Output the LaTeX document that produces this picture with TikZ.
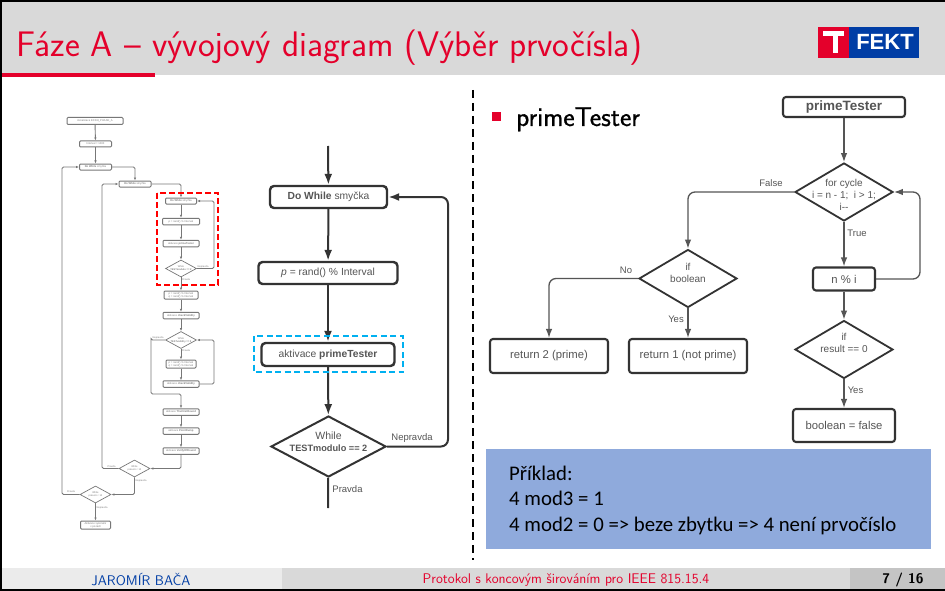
\documentclass[tikz,border=0pt]{standalone}
\usepackage{fontspec}
\usepackage{xcolor}
\usetikzlibrary{positioning,arrows.meta,shapes.geometric}
\newfontfamily\flowfont{Liberation Sans}
\newfontfamily\notefont{Carlito}
\newfontfamily\headfont[FakeBold=.7]{Latin Modern Sans}
\definecolor{fektred}{HTML}{E4002B}
\definecolor{fektblue}{HTML}{003DA5}
\definecolor{linedark}{HTML}{333333}
\definecolor{textgray}{HTML}{555555}
\definecolor{noteblue}{HTML}{8FAADC}
\definecolor{markblue}{HTML}{00B0F0}
\definecolor{minigray}{HTML}{777777}
\tikzset{
box/.style={draw=linedark, line width=2.1pt, rounded corners=3pt, inner sep=0pt, text=textgray, font=\flowfont\fontsize{11.3}{13}\selectfont, align=center},
mainbox/.style={box, line width=2.4pt, rounded corners=4pt, font=\flowfont\fontsize{10.3}{13}\selectfont},
dia/.style={diamond, draw=linedark, line width=1.8pt, inner sep=0pt, aspect=1.7},
dialab/.style={text=textgray, font=\flowfont\fontsize{10}{12.3}\selectfont, align=center, inner sep=0pt},
lab/.style={text=textgray, font=\flowfont\fontsize{9.5}{11}\selectfont, inner sep=0pt},
link/.style={draw=linedark, line width=2pt, rounded corners=7pt, -{Latex[length=11pt,width=8pt]}},
plainlink/.style={draw=linedark, line width=2pt},
testlink/.style={draw=textgray, line width=1.3pt, rounded corners=7pt, -{Latex[length=9pt,width=6.5pt]}},
minibox/.style={draw=minigray, line width=1pt, rounded corners=1pt, inner sep=0pt, text=gray, font=\flowfont\fontsize{2.7}{3.2}\selectfont, align=center},
minidia/.style={diamond, draw=minigray, line width=.7pt, inner sep=0pt, aspect=1.8, minimum width=31pt, minimum height=17pt},
minilab/.style={text=gray, font=\flowfont\fontsize{2.5}{3.1}\selectfont, align=center, inner sep=0pt},
minilink/.style={draw=minigray, line width=.9pt, rounded corners=1.5pt, -{Latex[length=3pt,width=2.4pt]}},
markbox/.style={dash pattern=on 6pt off 3.5pt, line width=1.5pt}
}
\begin{document}
\begin{tikzpicture}[x=1pt,y=-1pt]
\useasboundingbox (0,0) rectangle (945,591);
\fill[white] (0,0) rectangle (945,591);
% header
\fill[black!15] (0,0) rectangle (945,75);
\fill[fektred] (2,73) rectangle (155,77);
\node[text=fektred, font=\sffamily\fontsize{35.5}{40}\selectfont, inner sep=0pt, anchor=base west] (title) at (16,57) {Fáze A -- vývojový diagram (Výběr prvočísla)};
% logo
\fill[fektred] (818,27) rectangle (849,58);
\fill[fektblue] (849,27) rectangle (919,58);
\fill[white] (823,31) rectangle (844,36);
\fill[white] (833,36) rectangle (838,53);
\node[text=white, font=\flowfont\bfseries\fontsize{22}{24}\selectfont, inner sep=0pt] (fekt) at (885,42) {FEKT};
% footer
\fill[black!8] (0,568) rectangle (282,591);
\fill[black!15] (282,568) rectangle (850,591);
\fill[black!23] (850,568) rectangle (945,591);
\node[text=fektblue, font=\sffamily\fontsize{14}{16}\selectfont, inner sep=0pt] (author) at (141,580) {JAROMÍR BAČA};
\node[text=fektred, font=\sffamily\fontsize{14}{16}\selectfont, inner sep=0pt] (talk) at (566,580) {Protokol s koncovým širováním pro IEEE 815.15.4};
\node[font=\sffamily\bfseries\fontsize{14}{16}\selectfont, inner sep=0pt] (page) at (903,580) {7 / 16};
% frame
\draw[line width=4pt] (0,0) -- (945,0);
\draw[line width=3pt] (0,0) -- (0,591);
\draw[line width=4pt] (0,591) -- (945,591);
% divider
\draw[line width=2pt, dash pattern=on 8pt off 5pt] (473,90) -- (473,560);
% thumbnail chart
\node[minibox, minimum width=56pt, minimum height=7pt] (tInit) at (95,121) {inicializace ECDH\_PHASE\_A};
\node[minibox, minimum width=32pt, minimum height=6pt] (tInterval) at (95.5,144) {Interval = 1000};
\node[minibox, minimum width=32pt, minimum height=6pt] (tDoA) at (95.5,167) {\textbf{Do While} smyčka};
\node[minibox, minimum width=32pt, minimum height=6pt] (tDoB) at (135,184) {\textbf{Do While} smyčka};
\node[minibox, minimum width=31pt, minimum height=6pt] (tDoC) at (181,201) {\textbf{Do While} smyčka};
\node[minibox, minimum width=37pt, minimum height=6.5pt] (tRand) at (181,221.5) {\textit{p} = rand() \% Interval};
\node[minibox, minimum width=36pt, minimum height=6.5pt] (tTester) at (181,243.5) {aktivace \textbf{primeTester}};
\node[minidia] (tWhileA) at (181,268.5) {};
\node[minilab] (tWhileAlab) at (181,268.5) {While\\\textbf{TESTmodulo == 2}};
\node[minilab] (tNeA) at (203,266.5) {Nepravda};
\node[minilab] (tPrA) at (186,279.5) {Pravda};
\node[minibox, minimum width=34pt, minimum height=8pt] (tPair) at (181,295) {\textit{p} = rand() \% Interval\\\textit{q} = rand() \% Interval};
\node[minibox, minimum width=36pt, minimum height=6.5pt] (tCheckA) at (181,315.5) {aktivace \textbf{checkValidity}};
\node[minidia] (tWhileB) at (181,340) {};
\node[minilab] (tWhileBlab) at (181,340) {While\\\textbf{TESTvalidity == 2}};
\node[minilab] (tNeB) at (158,337.5) {Nepravda};
\node[minilab] (tPrB) at (186,351) {Pravda};
\node[minibox, minimum width=30pt, minimum height=8pt] (tPairB) at (181,364) {\textit{p} = rand() \% Interval\\\textit{q} = rand() \% Interval};
\node[minibox, minimum width=36pt, minimum height=6.5pt] (tCheckB) at (181,384) {aktivace \textbf{checkValidity}};
\coordinate (tJoin) at (181,394);
\node[minibox, minimum width=36pt, minimum height=6.5pt] (tFirst) at (181,412) {aktivace \textbf{TheFirstRound}};
\node[minibox, minimum width=36pt, minimum height=6.5pt] (tDump) at (181,431) {aktivace \textbf{PointDump}};
\node[minibox, minimum width=36pt, minimum height=6.5pt] (tVerify) at (181,451) {aktivace \textbf{VerifyOfRound}};
\node[minidia] (tWhileC) at (134.5,468.5) {};
\node[minilab] (tWhileClab) at (134.5,468.5) {While\\pokusů < 10};
\node[minilab] (tPrC) at (111.5,466.5) {Pravda};
\node[minilab] (tNeC) at (141,481) {Nepravda};
\node[minidia] (tWhileD) at (95.5,494.5) {};
\node[minilab] (tWhileDlab) at (95.5,494.5) {While\\pokusů < 10};
\node[minilab] (tPrD) at (71,492) {Pravda};
\node[minilab] (tNeD) at (102,508) {Nepravda};
\node[minibox, minimum width=30pt, minimum height=8pt] (tEnd) at (95.5,525) {Aktivace vykonání\\v pozadí};
\coordinate (tLeftA) at (62,300);
\coordinate (tLeftB) at (102,300);
\coordinate (tLeftC) at (151,340);
\coordinate (tRightA) at (214,268.5);
\coordinate (tRightB) at (214,340);
\draw[minilink] (tInit) -- (tInterval);
\draw[minilink] (tInterval) -- (tDoA);
\draw[minilink] (tDoA.east) -| (tDoB.north);
\draw[minilink] (tDoB.east) -| (tDoC.north);
\draw[minilink] (tDoC) -- (tRand);
\draw[minilink] (tRand) -- (tTester);
\draw[minilink] (tTester) -- (tWhileA);
\draw[minilink] (tWhileA) -- (tPair);
\draw[minilink] (tPair) -- (tCheckA);
\draw[minilink] (tCheckA) -- (tWhileB);
\draw[minilink] (tWhileB) -- (tPairB);
\draw[minilink] (tPairB) -- (tCheckB);
\draw[minilink] (tWhileA.east) -| (tRightA) |- (tDoC.east);
\draw[minilink] (tCheckB.east) -| (tRightB) -- (tWhileB.east);
\draw[minilink] (tWhileB.west) -| (tLeftC) |- (tJoin) -- (tFirst.north);
\draw[minilink] (tFirst) -- (tDump);
\draw[minilink] (tDump) -- (tVerify);
\draw[minilink] (tVerify.south) |- (tWhileC.east);
\draw[minilink] (tWhileC.west) -| (tLeftB) |- (tDoB.west);
\draw[minilink] (tWhileC.south) |- (tWhileD.east);
\draw[minilink] (tWhileD.west) -| (tLeftA) |- (tDoA.west);
\draw[minilink] (tWhileD) -- (tEnd);
\draw[draw=red, line width=1.6pt, dash pattern=on 6pt off 3pt] (157,193) rectangle (218,285);
% zoomed chart
\coordinate (mainTop) at (328,146);
\coordinate (mainEnd) at (328,508);
\coordinate (mainRight) at (448,321);
\node[mainbox, minimum width=117pt, minimum height=22pt] (doLoop) at (328.5,197) {\textbf{Do While} smyčka};
\node[mainbox, minimum width=139pt, minimum height=22pt] (randP) at (328,273) {\textit{p} = rand() \% Interval};
\node[mainbox, minimum width=133pt, minimum height=23pt] (callTester) at (328,354.5) {aktivace \textbf{primeTester}};
\node[dia, line width=2pt, minimum width=115pt, minimum height=61pt, label={[dialab, yshift=5pt]center:{\fontsize{10.5}{12}\selectfont While\\\fontsize{9.2}{12}\selectfont\textbf{TESTmodulo == 2}}}] (whileTest) at (328.5,446.5) {};
\node[lab] (noLab) at (412,438) {Nepravda};
\node[lab] (yesLab) at (347.5,489) {Pravda};
\draw[link] (mainTop) -- (doLoop);
\draw[link] (doLoop) -- (randP);
\draw[link] (randP) -- (callTester);
\draw[link] (callTester) -- (whileTest);
\draw[plainlink] (whileTest) -- (mainEnd);
\draw[link] (whileTest.east) -| (mainRight) |- (doLoop.east);
\draw[draw=markblue, markbox] (254,336) rectangle (403,372);
% primeTester chart
\fill[fektred] (492,112) rectangle (501,121);
\node[font=\headfont\fontsize{27}{30}\selectfont, inner sep=0pt, anchor=base west] (heading) at (516,126) {primeTester};
\node[box, minimum width=122pt, minimum height=20pt, font=\flowfont\bfseries\fontsize{13.5}{15}\selectfont] (tester) at (844,107) {primeTester};
\node[dia, minimum width=98pt, minimum height=58pt, label={[dialab, yshift=-3pt]center:{for cycle\\i = n - 1;\ \ i > 1;\\i--}}] (forCycle) at (844,192) {};
\node[box, minimum width=62pt, minimum height=23pt] (modulo) at (844,279) {n \% i};
\node[dia, minimum width=98pt, minimum height=58pt, label={[dialab, yshift=6.5pt]center:{if\\result == 0}}] (ifResult) at (844,349.5) {};
\node[box, minimum width=102pt, minimum height=33pt] (setFalse) at (844,425.5) {boolean = false};
\node[dia, minimum width=98pt, minimum height=58pt, label={[dialab, yshift=5.5pt]center:{if\\boolean}}] (ifBool) at (688,278.5) {};
\node[box, minimum width=118pt, minimum height=34pt] (retPrime) at (549,356) {return 2 (prime)};
\node[box, minimum width=118pt, minimum height=34pt] (retNot) at (688,356) {return 1 (not prime)};
\node[lab] (falseLab) at (771,183) {False};
\node[lab] (trueLab) at (857,233) {True};
\node[lab] (noBool) at (626,270) {No};
\node[lab] (yesBool) at (676,319) {Yes};
\node[lab] (yesRes) at (855.5,390) {Yes};
\coordinate (testRight) at (920,192);
\draw[testlink] (tester) -- (forCycle);
\draw[testlink] (forCycle) -- (modulo);
\draw[testlink] (modulo) -- (ifResult);
\draw[testlink] (ifResult) -- (setFalse);
\draw[testlink] (modulo.east) -| (testRight) -- (forCycle.east);
\draw[testlink] (forCycle.west) -| (ifBool.north);
\draw[testlink] (ifBool.west) -| (retPrime.north);
\draw[testlink] (ifBool) -- (retNot);
% example box
\node[fill=noteblue, minimum width=445pt, minimum height=100pt, inner sep=0pt] (noteBox) at (708.5,499) {};
\node[font=\notefont\fontsize{20.8}{25.5}\selectfont, align=left, anchor=west, inner sep=0pt] (noteText) at (509,500) {Příklad:\\4 mod3 = 1\\4 mod2 = 0 => beze zbytku => 4 není prvočíslo};
\end{tikzpicture}
\end{document}
